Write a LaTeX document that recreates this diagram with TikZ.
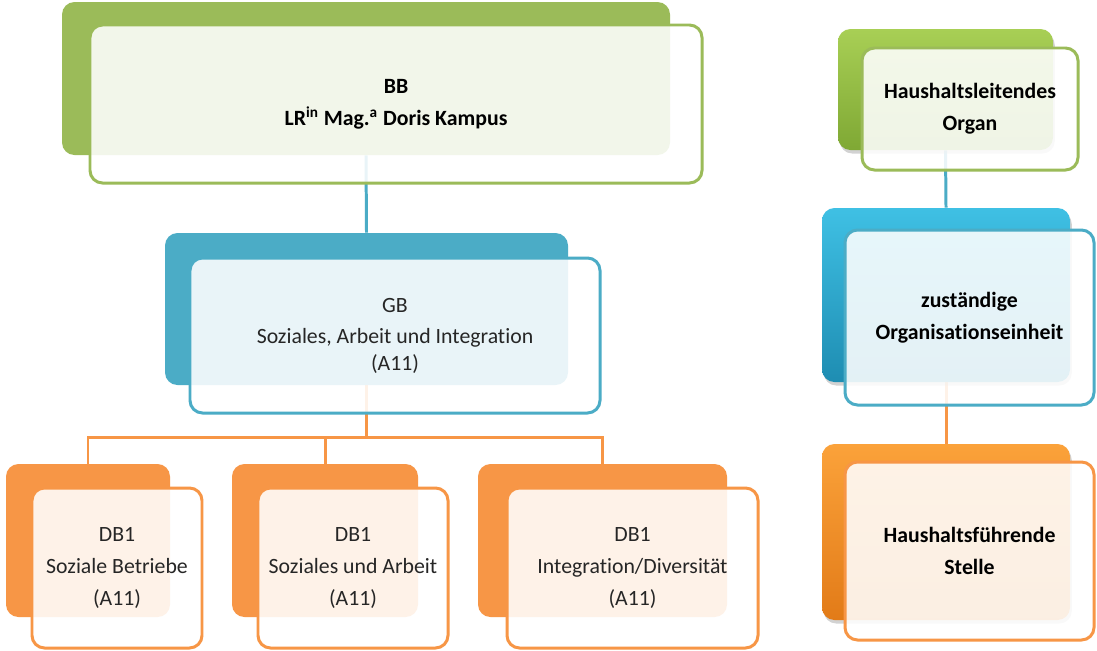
\documentclass[tikz,border=0pt]{standalone}
\usepackage{fontspec}
\setmainfont[Ligatures=NoCommon]{Carlito}
\usetikzlibrary{backgrounds,shadows}

\definecolor{orggreen}{HTML}{9BBB59}
\definecolor{orgblue}{HTML}{4BACC6}
\definecolor{orgorange}{HTML}{F79646}
\definecolor{orgtext}{HTML}{262626}
\definecolor{greentop}{HTML}{A8CF55}
\definecolor{greenbot}{HTML}{7FA834}
\definecolor{bluetop}{HTML}{3FC0E4}
\definecolor{bluebot}{HTML}{1E8DB2}
\definecolor{orangetop}{HTML}{FBA23A}
\definecolor{orangebot}{HTML}{E27B18}

\begin{document}
\begin{tikzpicture}[x=0.02cm,y=-0.02cm,
  size/.style args={#1/#2}{minimum width=#1*0.02cm, minimum height=#2*0.02cm},
  backbox/.style={rounded corners=0.25cm, inner sep=0pt, fill=#1},
  litbox/.style={rounded corners=0.25cm, inner sep=0pt, top color=#1top, bottom color=#1bot,
    drop shadow={opacity=0.35, shadow xshift=1pt, shadow yshift=-2pt}},
  frontbox/.style={rounded corners=0.25cm, draw=#1, line width=1.7pt, fill=white,
    fill opacity=0.88, text opacity=1, align=center, text=orgtext,
    font=\fontsize{12.4}{14.9}\selectfont},
  boldtext/.style={font=\fontsize{12.4}{14.9}\selectfont\bfseries, text=black},
  link/.style={draw=#1, line width=1.7pt}]
% Parameters
\def\gapA{3.2pt} \def\gapB{0pt}

% Canvas
\useasboundingbox (0,0) rectangle (1097,650);

% Left chart: back boxes
\node[backbox=orggreen,  size=608/153] (bbBack)  at (366,78.5) {};
\node[backbox=orgblue,   size=403/152] (gbBack)  at (366.5,309) {};
\node[backbox=orgorange, size=164/153] (db1Back) at (88,540.5) {};
\node[backbox=orgorange, size=186/153] (db2Back) at (325,540.5) {};
\node[backbox=orgorange, size=249/153] (db3Back) at (602.5,540.5) {};

% Left chart: front boxes
\node[frontbox=orggreen, size=612/158, boldtext] (bb) at (396,104)
  {BB\\[\gapA] LR\textsuperscript{in} Mag.\textsuperscript{a} Doris Kampus};
\node[frontbox=orgblue, size=410/155] (gb) at (395,335.5)
  {GB\\[\gapA] Soziales, Arbeit und Integration\\[\gapB] (A11)};
\node[frontbox=orgorange, size=170/160] (db1) at (117,568)
  {DB1\\[\gapA] Soziale Betriebe\\[\gapA] (A11)};
\node[frontbox=orgorange, size=190/160] (db2) at (353,568)
  {DB1\\[\gapA] Soziales und Arbeit\\[\gapA] (A11)};
\node[frontbox=orgorange, size=251/160] (db3) at (632.5,568)
  {DB1\\[\gapA] Integration/Diversität\\[\gapA] (A11)};

% Legend: back boxes
\node[litbox=green,  size=215/121] (hoBack) at (945.5,89.5) {};
\node[litbox=blue,   size=248/174] (zoBack) at (946,295) {};
\node[litbox=orange, size=248/176] (hsBack) at (946,532) {};

% Legend: front boxes
\node[frontbox=orggreen, size=216/122, boldtext] (ho) at (970,109)
  {Haushaltsleitendes\\[\gapA] Organ};
\node[frontbox=orgblue, size=249/175, boldtext] (zo) at (969.5,317.5)
  {zuständige\\[\gapA] Organisationseinheit};
\node[frontbox=orgorange, size=249/178, boldtext] (hs) at (969.5,551)
  {Haushaltsführende\\[\gapA] Stelle};

% Connectors
\begin{scope}[on background layer]
\fill[white] (0,0) rectangle (1097,650);
\draw[link=orgblue] (bbBack.south) -- (gbBack.north);
\draw[link=orgorange] (gbBack.south) -- ++(0,52) -| (db1Back.north);
\draw[link=orgorange] (gbBack.south) -- ++(0,52) -| (db2Back.north);
\draw[link=orgorange] (gbBack.south) -- ++(0,52) -| (db3Back.north);
\draw[link=orgblue] (hoBack.south) -- (zoBack.north);
\draw[link=orgorange] (zoBack.south) -- (hsBack.north);
\end{scope}
\end{tikzpicture}
\end{document}
